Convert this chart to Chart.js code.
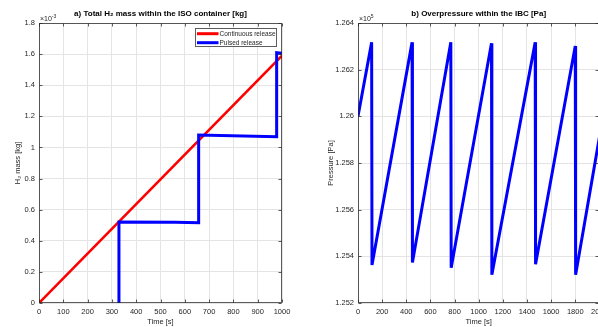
<!DOCTYPE html>
<html>
<head>
<meta charset="utf-8">
<script src="https://cdn.jsdelivr.net/npm/chart.js@4"></script>
<style>
html, body { margin: 0; padding: 0; background: #fff; width: 598px; height: 327px; overflow: hidden; position: relative; }
#a { position: absolute; left: 0; top: 0; }
#b { position: absolute; left: 300px; top: 0; }
</style>
</head>
<body>
<canvas id="a" width="300" height="327"></canvas>
<canvas id="b" width="320" height="327"></canvas>
<script>
// a) H2 mass [kg]
const timeContinuous = [0, 1000];
const massContinuous = [0, 0.00159];
const timePulsed = [329, 329, 560, 657, 657, 978, 978, 1000];
const massPulsed = [0, 0.000521, 0.000519, 0.000516, 0.00108, 0.001069, 0.001609, 0.001605];
const timeTicksA = [0, 100, 200, 300, 400, 500, 600, 700, 800, 900, 1000];
const massTicks = [0, 0.0002, 0.0004, 0.0006, 0.0008, 0.001, 0.0012, 0.0014, 0.0016, 0.0018];
const massTickLabels = ['0', '0.2', '0.4', '0.6', '0.8', '1', '1.2', '1.4', '1.6', '1.8'];

// b) pressure [Pa]
const timePressure = [0, 113, 116, 448, 451, 769, 772, 1106, 1109, 1468, 1471, 1800, 1803, 2000];
const pressure = [126000, 126317, 125363, 126317, 125374, 126317, 125351, 126313, 125321, 126317, 125366, 126301, 125321, 125910];
const timeTicksB = [0, 200, 400, 600, 800, 1000, 1200, 1400, 1600, 1800, 2000];
const pressureTicks = [125200, 125400, 125600, 125800, 126000, 126200, 126400];
const pressureTickLabels = ['1.252', '1.254', '1.256', '1.258', '1.26', '1.262', '1.264'];

const FONT = "'Liberation Sans', Arial, sans-serif";
const AX = '#262626';

function pts(xs, ys) {
    return xs.map((x, i) => ({ x: x, y: ys[i] }));
}

// matlab-like box, inward ticks, title, exponent, legend
const matlabAxes = {
    id: 'matlabAxes',
    afterDraw(chart, args, opts) {
        const ctx = chart.ctx;
        const a = chart.chartArea;
        const x = chart.scales.x, y = chart.scales.y;
        const L = Math.round(a.left) + 0.5, R = Math.round(a.right) - 0.5;
        const T = Math.round(a.top) + 0.5, B = Math.round(a.bottom) - 0.5;
        ctx.save();
        ctx.strokeStyle = AX;
        ctx.lineWidth = 1;
        ctx.globalAlpha = 0.75;
        ctx.beginPath();
        x.ticks.forEach(t => {
            const px = Math.round(x.getPixelForValue(t.value)) + 0.5;
            ctx.moveTo(px, B); ctx.lineTo(px, B - 3);
            ctx.moveTo(px, T); ctx.lineTo(px, T + 3);
        });
        y.ticks.forEach(t => {
            const py = Math.round(y.getPixelForValue(t.value)) + 0.5;
            ctx.moveTo(L, py); ctx.lineTo(L + 3, py);
            ctx.moveTo(R, py); ctx.lineTo(R - 3, py);
        });
        ctx.stroke();
        ctx.strokeRect(L, T, R - L, B - T);
        ctx.globalAlpha = 1;

        // title
        ctx.fillStyle = '#000';
        ctx.font = 'bold 8px ' + FONT;
        ctx.textAlign = 'center';
        ctx.textBaseline = 'middle';
        ctx.fillText(opts.title, (a.left + a.right) / 2, 14);

        // exponent
        ctx.fillStyle = AX;
        ctx.textAlign = 'left';
        ctx.font = '7px ' + FONT;
        ctx.fillText('×10', a.left + 1, 19.5);
        const w = ctx.measureText('×10').width;
        ctx.font = '5px ' + FONT;
        ctx.fillText(opts.exponent, a.left + 1 + w, 17);

        // legend
        if (opts.legend) {
            const bx = 195.5, by = 28.5, bw = 81, bh = 18;
            ctx.fillStyle = '#fff';
            ctx.fillRect(bx, by, bw, bh);
            ctx.strokeStyle = AX;
            ctx.globalAlpha = 0.75;
            ctx.strokeRect(bx, by, bw, bh);
            ctx.globalAlpha = 1;
            ctx.font = '6.5px ' + FONT;
            opts.legend.forEach((item, i) => {
                const ly = 33.7 + i * 9;
                ctx.strokeStyle = item.color;
                ctx.lineWidth = 3;
                ctx.beginPath();
                ctx.moveTo(197, ly); ctx.lineTo(218.5, ly);
                ctx.stroke();
                ctx.fillStyle = AX;
                ctx.fillText(item.label, 219.5, ly + 0.3);
            });
        }
        ctx.restore();
    }
};

function xScale(max, ticks) {
    return {
        type: 'linear', min: 0, max: max,
        afterBuildTicks: s => { s.ticks = ticks.map(v => ({ value: v })); },
        afterFit: s => { s.height = 24; },
        ticks: {
            callback: v => String(v), autoSkip: false, maxRotation: 0,
            padding: 4.5, color: AX, font: { family: FONT, size: 7.5 }
        },
        grid: { color: '#e4e4e4', drawTicks: false },
        border: { display: false },
        title: {
            display: true, text: 'Time [s]', color: AX,
            font: { family: FONT, size: 7.5 }, padding: { top: 0, bottom: 0.5 }
        }
    };
}

function yScale(min, max, ticks, labels, width, title, titlePad) {
    return {
        type: 'linear', min: min, max: max,
        afterBuildTicks: s => { s.ticks = ticks.map(v => ({ value: v })); },
        afterFit: s => { s.width = width; },
        ticks: {
            callback: (v, i) => labels[i], autoSkip: false,
            padding: 4, color: AX, font: { family: FONT, size: 7.5 }
        },
        grid: { color: '#e4e4e4', drawTicks: false },
        border: { display: false },
        title: {
            display: true, text: title, color: AX,
            font: { family: FONT, size: 7.5 }, padding: { top: titlePad, bottom: 0 }
        }
    };
}

new Chart(document.getElementById('a').getContext('2d'), {
    type: 'line',
    data: {
        datasets: [{
            label: 'Continuous release',
            data: pts(timeContinuous, massContinuous),
            borderColor: '#ff0000', borderWidth: 2.6, pointRadius: 0, order: 2
        }, {
            label: 'Pulsed release',
            data: pts(timePulsed, massPulsed),
            borderColor: '#0000ff', borderWidth: 3, pointRadius: 0, order: 1
        }]
    },
    options: {
        responsive: false, animation: false, devicePixelRatio: 1,
        layout: { padding: { top: 23, right: 18, left: 0, bottom: 0 } },
        plugins: {
            legend: { display: false }, tooltip: { enabled: false },
            matlabAxes: {
                title: 'a) Total H₂ mass within the ISO container [kg]',
                exponent: '-3',
                legend: [
                    { label: 'Continuous release', color: '#ff0000' },
                    { label: 'Pulsed release', color: '#0000ff' }
                ]
            }
        },
        scales: {
            x: xScale(1000, timeTicksA),
            y: yScale(0, 0.0018, massTicks, massTickLabels, 39, 'H₂ mass [kg]', 13)
        }
    },
    plugins: [matlabAxes]
});

new Chart(document.getElementById('b').getContext('2d'), {
    type: 'line',
    data: {
        datasets: [{
            label: 'Pressure',
            data: pts(timePressure, pressure),
            borderColor: '#0000ff', borderWidth: 3, pointRadius: 0
        }]
    },
    options: {
        responsive: false, animation: false, devicePixelRatio: 1,
        layout: { padding: { top: 23, right: 20.6, left: 0, bottom: 0 } },
        plugins: {
            legend: { display: false }, tooltip: { enabled: false },
            matlabAxes: {
                title: 'b) Overpressure within the IBC [Pa]',
                exponent: '5',
                legend: null
            }
        },
        scales: {
            x: xScale(2000, timeTicksB),
            y: yScale(125200, 126400, pressureTicks, pressureTickLabels, 58, 'Pressure [Pa]', 26)
        }
    },
    plugins: [matlabAxes]
});
</script>
</body>
</html>
